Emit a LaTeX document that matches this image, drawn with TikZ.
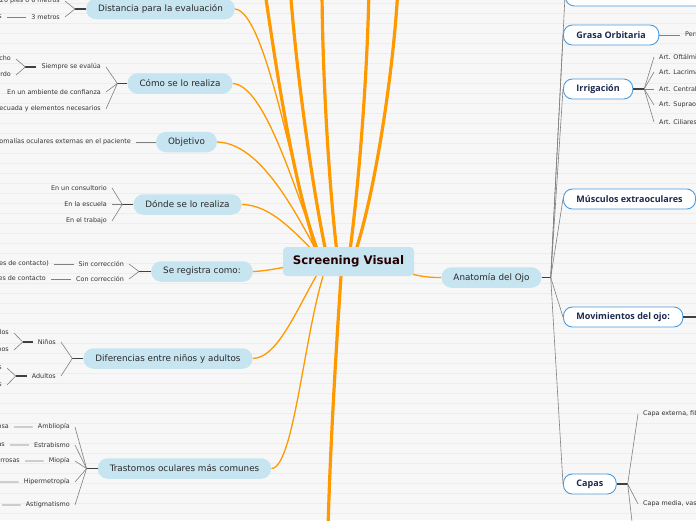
\documentclass[tikz,border=0pt]{standalone}
\usepackage{fontspec}
\setmainfont{DejaVu Sans}
\newfontfamily\opfont{Open Sans}
\usepackage{tikz}
\usetikzlibrary{positioning, calc}
\definecolor{cBg}{RGB}{247,247,247}
\definecolor{cLn}{RGB}{237,237,237}
\definecolor{cTop}{RGB}{199,229,240}
\definecolor{cOr}{RGB}{255,153,0}
\definecolor{cBl}{RGB}{74,155,224}
\definecolor{cNv}{RGB}{27,42,78}
\definecolor{cTx}{RGB}{51,51,51}
\pgfdeclarelayer{bg}
\pgfdeclarelayer{wires}
\pgfsetlayers{bg,wires,main}

\begin{document}
\begin{tikzpicture}[x=1pt, y=-1pt,
  root/.style={rectangle, rounded corners=4pt, fill=cTop, minimum width=131pt, minimum height=29pt, font=\fontsize{11.8}{13}\selectfont\bfseries, text=black!85!red},
  topic/.style={rectangle, rounded corners=10pt, fill=cTop, minimum height=20.5pt, inner xsep=12pt, font=\fontsize{8.8}{10}\selectfont, text=cTx!80!black},
  part/.style={rectangle, rounded corners=9pt, fill=white, draw=cBl, line width=0.9pt, minimum height=20pt, inner xsep=13pt, font=\opfont\bfseries\fontsize{9}{10}\selectfont, text=cNv},
  leaf/.style={inner xsep=5pt, inner ysep=1pt, font=\fontsize{6.4}{7}\selectfont, text=cTx},
  branch/.style={cOr, line width=1.3pt},
  trunk/.style={cOr, line width=3.2pt},
  stub/.style={black!75, line width=1.3pt},
  twig/.style={black!50, line width=0.6pt}]

\useasboundingbox (0,0) rectangle (696,520);
\clip (0,0) rectangle (696,520);
\begin{pgfonlayer}{bg}
  \fill[cBg] (0,0) rectangle (696,520);
  \foreach \k in {0,...,51}
    \draw[cLn, line width=0.8pt] (0,3+10*\k) -- (696,3+10*\k);
\end{pgfonlayer}

% central topic
\node[root] (SV) at (348.5,261.5) {Screening Visual};

% left topics
\node[topic] (dist) at (160.5,9) {Distancia para la evaluación};
\node[topic] (como) at (180,83.5) {Cómo se lo realiza};
\node[topic] (obj) at (186.5,142) {Objetivo};
\node[topic] (donde) at (187.5,204.5) {Dónde se lo realiza};
\node[topic] (reg) at (202,271.5) {Se registra como:};
\node[topic] (dif) at (168,358.5) {Diferencias entre niños y adultos};
\node[topic] (tras) at (184.5,468.5) {Trastornos oculares más comunes};
\node[topic] (anat) at (491.5,277.5) {Anatomía del Ojo};

% distancia
\coordinate[left=11pt of dist] (jDist);
\node[leaf, anchor=east] (dist1) at (65,1) {20 pies o 6 metros};
\node[leaf, anchor=east] (dist2) at (65,17) {3 metros};
\node[leaf, anchor=east] (dist21) at (7,17) {10 pies};
\draw[stub] (dist.west) -- (jDist);
\draw[twig] (jDist) -- (dist1.east) (jDist) -- (dist2.east);
\draw[twig] (dist2.west) -- (dist21.east);

% como
\coordinate[left=10pt of como] (jComo);
\node[leaf, anchor=east] (como1) at (106,67) {Siempre se evalúa};
\node[leaf, anchor=east] (como2) at (106,92) {En un ambiente de confianza};
\node[leaf, anchor=east] (como3) at (106,109) {Iluminación adecuada y elementos necesarios};
\coordinate[left=11pt of como1] (jSiem);
\node[leaf, anchor=east] (siem1) at (16,59) {Ojo derecho};
\node[leaf, anchor=east] (siem2) at (16,75) {Ojo izquierdo};
\draw[stub] (como.west) -- (jComo);
\draw[twig] (jComo) -- (como1.east) (jComo) -- (como2.east) (jComo) -- (como3.east);
\draw[stub] (como1.west) -- (jSiem);
\draw[twig] (jSiem) -- (siem1.east) (jSiem) -- (siem2.east);

% objetivo
\node[leaf, anchor=east] (obj1) at (136,142) {Detectar anomalías oculares externas en el paciente};
\draw[twig] (obj.west) -- (obj1.east);

% donde
\coordinate[left=11pt of donde] (jDonde);
\node[leaf, anchor=east] (donde1) at (112,188) {En un consultorio};
\node[leaf, anchor=east] (donde2) at (112,204.5) {En la escuela};
\node[leaf, anchor=east] (donde3) at (112,221) {En el trabajo};
\draw[stub] (donde.west) -- (jDonde);
\draw[twig] (jDonde) -- (donde1.east) (jDonde) -- (donde2.east) (jDonde) -- (donde3.east);

% registro
\coordinate[left=12pt of reg] (jReg);
\node[leaf, anchor=east] (reg1) at (129,264) {Sin corrección};
\node[leaf, anchor=east] (reg2) at (129,279) {Con corrección};
\node[leaf, anchor=east] (reg11) at (54,264) {Sin lentes (gafas o lentes de contacto)};
\node[leaf, anchor=east] (reg21) at (51,279) {Con gafas o lentes de contacto};
\draw[stub] (reg.west) -- (jReg);
\draw[twig] (jReg) -- (reg1.east) (jReg) -- (reg2.east);
\draw[twig] (reg1.west) -- (reg11.east) (reg2.west) -- (reg21.east);

% diferencias
\coordinate[left=11pt of dif] (jDif);
\node[leaf, anchor=east] (dif1) at (61,342) {Niños};
\node[leaf, anchor=east] (dif2) at (61,376) {Adultos};
\coordinate[left=10pt of dif1] (jNin);
\coordinate[left=11pt of dif2] (jAdu);
\node[leaf, anchor=east] (nin1) at (14,333) {Optotipos con símbolos};
\node[leaf, anchor=east] (nin2) at (14,350) {Con figuras y signos};
\node[leaf, anchor=east] (adu1) at (7,368) {Optotipos de letras};
\node[leaf, anchor=east] (adu2) at (7,385) {Optotipos de números};
\draw[stub] (dif.west) -- (jDif);
\draw[twig] (jDif) -- (dif1.east) (jDif) -- (dif2.east);
\draw[stub] (dif1.west) -- (jNin);
\draw[twig] (jNin) -- (nin1.east) (jNin) -- (nin2.east);
\draw[stub] (dif2.west) -- (jAdu);
\draw[twig] (jAdu) -- (adu1.east) (jAdu) -- (adu2.east);

% trastornos
\coordinate[left=11pt of tras] (jTras);
\node[leaf, anchor=east] (tras1) at (75,427) {Ambliopía};
\node[leaf, anchor=east] (tras2) at (75,445) {Estrabismo};
\node[leaf, anchor=east] (tras3) at (75,461) {Miopía};
\node[leaf, anchor=east] (tras4) at (75,482) {Hipermetropía};
\node[leaf, anchor=east] (tras5) at (75,505) {Astigmatismo};
\node[leaf, anchor=east] (tras11) at (14,427) {Visión perezosa};
\node[leaf, anchor=east] (tras21) at (10,445) {Desviación de los ojos en direcciones distintas};
\node[leaf, anchor=east] (tras31) at (25,461) {Ve de lejos imágenes borrosas};
\node[leaf, anchor=east] (tras41) at (-1,482) {Ve de cerca imágenes borrosas};
\node[leaf, anchor=east] (tras51) at (2,505) {Visión distorsionada};
\draw[stub] (tras.west) -- (jTras);
\foreach \n in {1,...,5}
  \draw[twig] (jTras) -- (tras\n.east) (tras\n.west) -- (tras\n1.east);

% anatomia
\coordinate[right=9pt of anat] (jAnat);
\node[part, minimum width=150pt, anchor=west] (top) at (565,-4) {};
\node[part, anchor=west] (gras) at (563,35) {Grasa Orbitaria};
\node[part, anchor=west] (irr) at (563,89) {Irrigación};
\node[part, anchor=west] (mus) at (563,199) {Músculos extraoculares};
\node[part, anchor=west] (mov) at (563,317) {Movimientos del ojo:};
\node[part, anchor=west] (cap) at (563,484) {Capas};
\draw[stub] (anat.east) -- (jAnat);
\foreach \p in {top,gras,irr,mus,mov,cap}
  \draw[twig] (jAnat) -- (\p.west);

\node[leaf, anchor=west] (gras1) at (680,35) {Permite el desplazamiento del ojo};
\draw[twig] (gras.east) -- (gras1.west);

\coordinate[right=11pt of irr] (jIrr);
\node[leaf, anchor=west] (irr1) at (654,57) {Art. Oftálmica};
\node[leaf, anchor=west] (irr2) at (654,72) {Art. Lacrimal};
\node[leaf, anchor=west] (irr3) at (654,89) {Art. Central de la retina};
\node[leaf, anchor=west] (irr4) at (654,105) {Art. Supraorbitaria};
\node[leaf, anchor=west] (irr5) at (654,122) {Art. Ciliares};
\draw[stub] (irr.east) -- (jIrr);
\foreach \n in {1,...,5}
  \draw[twig] (jIrr) -- (irr\n.west);

\coordinate (movX) at (700,317);
\draw[stub] (mov.east) -- (movX);

\coordinate[right=11pt of cap] (jCap);
\node[leaf, anchor=west] (cap1) at (638,414) {Capa externa, fibrosa};
\node[leaf, anchor=west] (cap2) at (638,504) {Capa media, vascular};
\coordinate (capX) at (633,530);
\draw[stub] (cap.east) -- (jCap);
\draw[twig] (jCap) -- (cap1.west) (jCap) -- (cap2.west) (jCap) -- (capX);

% orange branches
\coordinate (up1) at (264,-15);
\coordinate (up2) at (290,-15);
\coordinate (up3) at (322,-15);
\coordinate (up4) at (369,-15);
\coordinate (up5) at (398,-15);
\coordinate (down) at (328,530);
\begin{pgfonlayer}{wires}
  \draw[branch] (dist.east) .. controls (265,12) and (292,170) .. ([xshift=-30.5pt]SV.center);
  \draw[branch] (como.east) .. controls (265,85) and (295,190) .. ([xshift=-26.5pt]SV.center);
  \draw[branch] (obj.east) .. controls (260,143) and (295,210) .. ([xshift=-26.5pt]SV.center);
  \draw[branch] (donde.east) .. controls (275,205) and (300,240) .. ([xshift=-23.5pt]SV.center);
  \draw[branch] (reg.east) .. controls (270,271) and (285,266) .. ([xshift=-23.5pt]SV.center);
  \draw[branch] (dif.east) .. controls (280,358) and (300,300) .. ([xshift=-23.5pt]SV.center);
  \draw[branch] (tras.east) .. controls (295,468) and (305,320) .. ([xshift=-20.5pt]SV.center);
  \draw[branch] (anat.west) .. controls (420,278) and (400,272) .. ([xshift=31.5pt]SV.center);
  \draw[trunk] ([xshift=-26.5pt]SV.center) .. controls (295,200) and (275,60) .. (up1);
  \draw[trunk] ([xshift=-20.5pt]SV.center) .. controls (312,190) and (295,60) .. (up2);
  \draw[trunk] ([xshift=-10.5pt]SV.center) .. controls (328,180) and (322,60) .. (up3);
  \draw[trunk] (SV.center) .. controls (360,180) and (368,60) .. (up4);
  \draw[trunk] ([xshift=3.5pt]SV.center) .. controls (375,200) and (395,60) .. (up5);
  \draw[trunk] ([xshift=-6.5pt]SV.center) .. controls (336,350) and (330,450) .. (down);
\end{pgfonlayer}
\end{tikzpicture}
\end{document}
